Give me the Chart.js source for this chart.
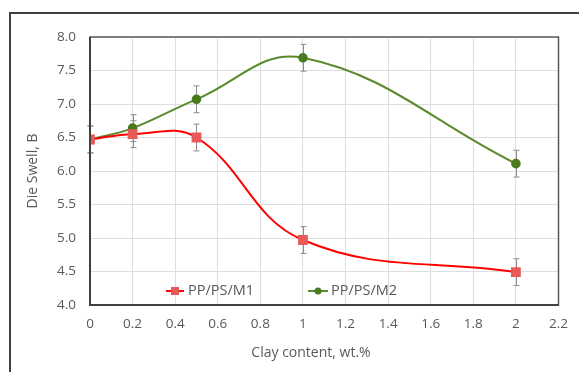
<!DOCTYPE html>
<html>
<head>
<meta charset="utf-8">
<script src="https://cdn.jsdelivr.net/npm/chart.js@4"></script>
<style>
  html, body { margin: 0; padding: 0; background: #fff; }
  #wrap { width: 579px; height: 372px; }
</style>
</head>
<body>
<div id="wrap"><canvas id="swellChart" width="579" height="372"></canvas></div>
<script>
// dados
const clayContent = [0, 0.2, 0.5, 1, 2];
const swellM1 = [6.47, 6.55, 6.50, 4.97, 4.49];
const swellM2 = [6.47, 6.64, 7.07, 7.69, 6.11];
const errM1 = [0.2, 0.2, 0.2, 0.2, 0.2];
const errM2 = [0.2, 0.2, 0.2, 0.2, 0.2];
const seriesNames = ['PP/PS/M1', 'PP/PS/M2'];
const xTitle = 'Clay content, wt.%';
const yTitle = 'Die Swell, B';

const FONT = "'Open Sans', 'Liberation Sans', sans-serif";
const GREY_TXT = '#595959';

function toPoints(ys) {
    return clayContent.map((x, i) => ({ x: x, y: ys[i] }));
}

// barras de erro, moldura, títulos e legenda
const extrasPlugin = {
    id: 'extras',
    beforeDraw(chart) {
        const ctx = chart.ctx;
        ctx.save();
        ctx.fillStyle = '#fff';
        ctx.fillRect(0, 0, chart.width, chart.height);
        // moldura externa
        ctx.strokeStyle = '#404040';
        ctx.lineWidth = 2;
        ctx.beginPath();
        ctx.moveTo(10, chart.height);
        ctx.lineTo(10, 13);
        ctx.lineTo(chart.width, 13);
        ctx.stroke();
        ctx.restore();
    },
    beforeDatasetsDraw(chart) {
        const ctx = chart.ctx;
        const xs = chart.scales.x, ys = chart.scales.y;
        const errs = [errM1, errM2];
        ctx.save();
        ctx.strokeStyle = '#8c8c8c';
        ctx.lineWidth = 1;
        chart.data.datasets.forEach((ds, di) => {
            ds.data.forEach((p, i) => {
                const px = Math.round(xs.getPixelForValue(p.x)) + 0.5;
                const top = ys.getPixelForValue(p.y + errs[di][i]);
                const bot = ys.getPixelForValue(p.y - errs[di][i]);
                ctx.beginPath();
                ctx.moveTo(px, top); ctx.lineTo(px, bot);
                ctx.moveTo(px - 3, top); ctx.lineTo(px + 3, top);
                ctx.moveTo(px - 3, bot); ctx.lineTo(px + 3, bot);
                ctx.stroke();
            });
        });
        ctx.restore();
    },
    afterDraw(chart) {
        const ctx = chart.ctx;
        const a = chart.chartArea;
        ctx.save();
        // borda da área do gráfico
        ctx.strokeStyle = '#595959';
        ctx.lineWidth = 1.5;
        ctx.strokeRect(a.left, a.top, a.right - a.left, a.bottom - a.top);
        ctx.strokeStyle = '#404040';
        ctx.lineWidth = 2;
        ctx.beginPath();
        ctx.moveTo(a.left, a.top);
        ctx.lineTo(a.left, a.bottom);
        ctx.lineTo(a.right, a.bottom);
        ctx.stroke();

        // títulos dos eixos
        ctx.fillStyle = GREY_TXT;
        ctx.font = '14px ' + FONT;
        ctx.textAlign = 'center';
        ctx.textBaseline = 'middle';
        ctx.fillText(xTitle, 311, 353);
        ctx.translate(33, 171);
        ctx.rotate(-Math.PI / 2);
        ctx.fillText(yTitle, 0, 0);
        ctx.restore();

        // legenda dentro da área
        ctx.save();
        ctx.font = '14.5px ' + FONT;
        ctx.fillStyle = GREY_TXT;
        ctx.textBaseline = 'middle';
        ctx.textAlign = 'left';
        const ly = 291;
        ctx.strokeStyle = '#ff0000';
        ctx.lineWidth = 2;
        ctx.beginPath(); ctx.moveTo(166, ly); ctx.lineTo(184, ly); ctx.stroke();
        ctx.fillStyle = '#e85a5a';
        ctx.fillRect(171, ly - 4, 8, 8);
        ctx.fillStyle = GREY_TXT;
        ctx.fillText(seriesNames[0], 188, ly);
        ctx.strokeStyle = '#5b8a2e';
        ctx.beginPath(); ctx.moveTo(308, ly); ctx.lineTo(328, ly); ctx.stroke();
        ctx.fillStyle = '#4a7a1e';
        ctx.beginPath(); ctx.arc(318, ly, 3.5, 0, Math.PI * 2); ctx.fill();
        ctx.fillStyle = GREY_TXT;
        ctx.fillText(seriesNames[1], 331, ly);
        ctx.restore();
    }
};

function createSwellChart() {
    const ctx = document.getElementById('swellChart').getContext('2d');
    new Chart(ctx, {
        type: 'line',
        data: {
            datasets: [{
                label: seriesNames[0],
                data: toPoints(swellM1),
                borderColor: '#ff0000',
                borderWidth: 2,
                pointStyle: 'rect',
                pointRadius: 5.5,
                pointBackgroundColor: '#e85a5a',
                pointBorderColor: '#e85a5a',
                tension: 0.4,
                fill: false
            }, {
                label: seriesNames[1],
                data: toPoints(swellM2),
                borderColor: '#5b8a2e',
                borderWidth: 2,
                pointStyle: 'circle',
                pointRadius: 3.8,
                pointBackgroundColor: '#4a7a1e',
                pointBorderColor: '#4a7a1e',
                tension: 0.4,
                fill: false
            }]
        },
        options: {
            responsive: false,
            animation: false,
            layout: { padding: { left: 0, top: 37, right: 17, bottom: 0 } },
            plugins: { legend: { display: false }, tooltip: { enabled: false } },
            scales: {
                x: {
                    type: 'linear',
                    min: 0, max: 2.2,
                    ticks: {
                        stepSize: 0.2,
                        color: GREY_TXT,
                        font: { family: FONT, size: 13.5 },
                        padding: 11,
                        callback: v => Math.round(v * 10) / 10
                    },
                    grid: { color: '#dedede', drawTicks: false },
                    border: { display: false },
                    afterFit: s => { s.height = 67; }
                },
                y: {
                    min: 4, max: 8,
                    ticks: {
                        stepSize: 0.5,
                        color: GREY_TXT,
                        font: { family: FONT, size: 13.5 },
                        padding: 14,
                        callback: v => v.toFixed(1)
                    },
                    grid: { color: '#dedede', drawTicks: false },
                    border: { display: false },
                    afterFit: s => { s.width = 90; }
                }
            }
        },
        plugins: [extrasPlugin]
    });
}

document.addEventListener('DOMContentLoaded', createSwellChart);
</script>
</body>
</html>
